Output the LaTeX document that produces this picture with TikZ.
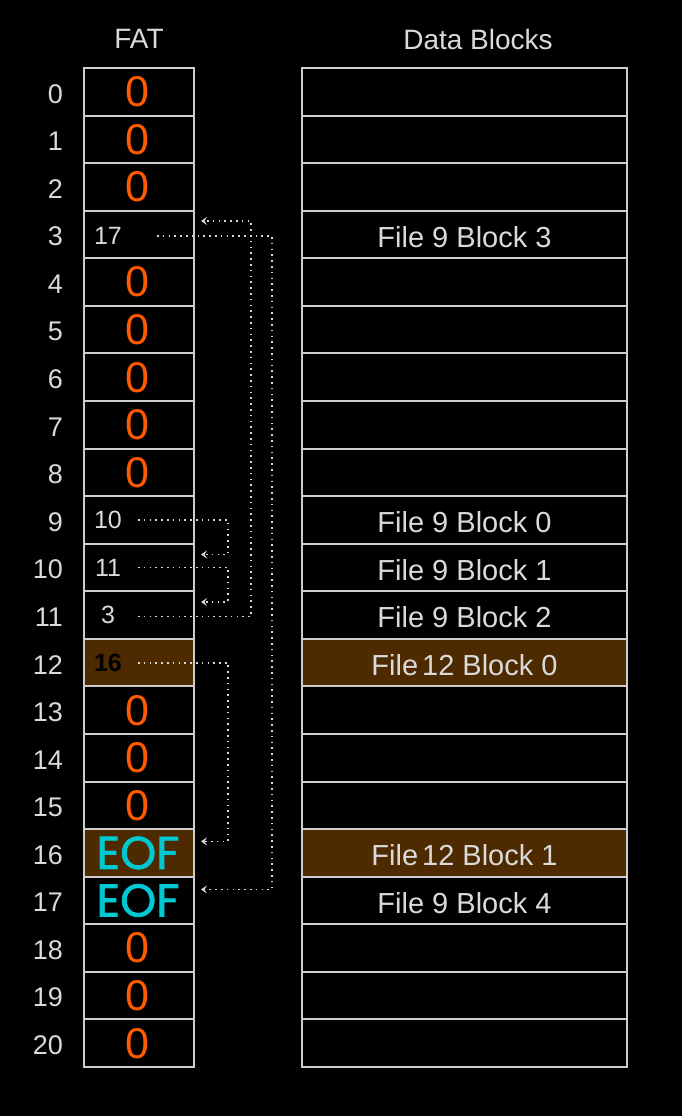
\documentclass[tikz,border=0pt]{standalone}
\usepackage{fontspec}
\setmainfont{Liberation Sans}
\newfontfamily\eoffont[FakeBold=1.6]{Poppins}
\usetikzlibrary{arrows.meta,calc}
\definecolor{bord}{HTML}{CDCDCD}
\definecolor{brownfill}{HTML}{4D2A00}
\definecolor{zero}{HTML}{FF5A00}
\definecolor{eof}{HTML}{00C8D3}
\definecolor{txt}{HTML}{DADADA}
\definecolor{dots}{HTML}{D8D8D8}
\tikzset{
 cell/.style={draw=bord, line width=2pt, minimum height=47.57pt, inner sep=0pt, outer sep=0pt},
 fatcell/.style={cell, minimum width=110pt},
 datacell/.style={cell, minimum width=325pt},
 zerotxt/.style={text=zero, inner sep=0pt, font=\fontsize{43}{43}\selectfont},
 eoftxt/.style={text=eof, inner sep=0pt, font=\eoffont\fontsize{46}{46}\selectfont},
 numtxt/.style={text=txt, inner sep=0pt, font=\fontsize{25}{25}\selectfont},
 rowlbl/.style={text=txt, font=\fontsize{27}{27}\selectfont, anchor=east, inner sep=0pt},
 datatxt/.style={text=txt, inner sep=0pt, font=\fontsize{29}{29}\selectfont},
 titletxt/.style={text=txt, inner sep=0pt, font=\fontsize{28}{28}\selectfont},
 link/.style={draw=dots, line width=1.8pt, dash pattern=on 1.6pt off 4.2pt, -{Stealth[length=6pt,width=8pt,inset=2.5pt]}},
}
\begin{document}
\begin{tikzpicture}[x=1pt,y=-1pt]
\fill[black] (0,0) rectangle (682,1116);
\useasboundingbox (0,0) rectangle (682,1116);
\node[titletxt] (tfat) at (139,39) {FAT};
\node[titletxt] (tdata) at (478,39) {Data Blocks};
\foreach \i in {0,...,20} {
  \ifnum\i=12 \def\cf{brownfill}\else\ifnum\i=16 \def\cf{brownfill}\else\def\cf{black}\fi\fi
  \pgfmathsetmacro\yc{68+47.57*(\i+0.5)}
  \node[fatcell, fill=\cf] (f\i) at (139,\yc) {};
  \node[datacell, fill=\cf] (d\i) at (464.5,\yc) {};
  \node[rowlbl] (r\i) at (63,\yc+2) {\i};
}
\foreach \i in {0,1,2,4,5,6,7,8,13,14,15,18,19,20}
  \node[zerotxt] (z\i) at ([xshift=-1.5pt]f\i.center) {0};
\node[eoftxt] (e16) at ([xshift=-1pt]f16.center) {EOF};
\node[eoftxt] (e17) at ([xshift=-1pt]f17.center) {EOF};
\node[numtxt] (n3) at ([xshift=-31pt,yshift=-1.5pt]f3.center) {17};
\node[numtxt] (n9) at ([xshift=-31pt]f9.center) {10};
\node[numtxt] (n10) at ([xshift=-31pt]f10.center) {11};
\node[numtxt] (n11) at ([xshift=-31pt]f11.center) {3};
\node[numtxt, text=black, font=\bfseries\fontsize{25}{25}\selectfont] (n12) at ([xshift=-31pt]f12.center) {16};
\node[datatxt] (t3) at ([yshift=-2.5pt]d3.center) {File 9 Block 3};
\node[datatxt] (t9) at ([yshift=-2.5pt]d9.center) {File 9 Block 0};
\node[datatxt] (t10) at ([yshift=-2.5pt]d10.center) {File 9 Block 1};
\node[datatxt] (t11) at ([yshift=-2.5pt]d11.center) {File 9 Block 2};
\node[datatxt] (t12) at ([yshift=-2.5pt]d12.center) {File\kern4pt 12 Block 0};
\node[datatxt] (t16) at ([yshift=-2.5pt]d16.center) {File\kern4pt 12 Block 1};
\node[datatxt] (t17) at ([yshift=-2.5pt]d17.center) {File 9 Block 4};
\draw[link] ([xshift=18pt,yshift=-1.5pt]f3.center) -| ([xshift=78pt,yshift=11pt]f17.east) -- ([xshift=7pt,yshift=11pt]f17.east);
\draw[link] ([xshift=-1pt,yshift=-1.5pt]f11.center) -| ([xshift=57pt,yshift=13.5pt]f3.east) -- ([xshift=7pt,yshift=13.5pt]f3.east);
\draw[link] ([xshift=-1pt]f9.center) -| ([xshift=34pt,yshift=13pt]f10.east) -- ([xshift=7pt,yshift=13pt]f10.east);
\draw[link] ([xshift=-1pt]f10.center) -| ([xshift=34pt,yshift=13pt]f11.east) -- ([xshift=7pt,yshift=13pt]f11.east);
\draw[link] ([xshift=-1pt]f12.center) -| ([xshift=34pt,yshift=11.5pt]f16.east) -- ([xshift=7pt,yshift=11.5pt]f16.east);
\end{tikzpicture}
\end{document}
